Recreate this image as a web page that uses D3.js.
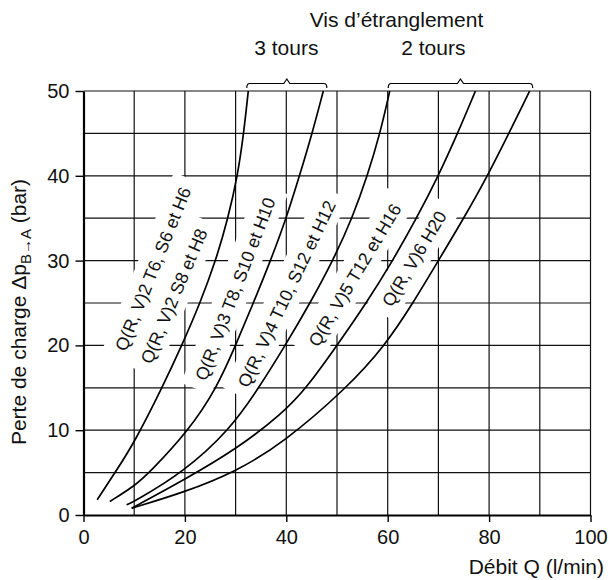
<!DOCTYPE html>
<html lang="fr">
<head>
<meta charset="UTF-8">
<title>Perte de charge</title>
<script src="https://cdnjs.cloudflare.com/ajax/libs/d3/7.8.5/d3.min.js"></script>
<style>
  body { margin: 0; background: #fff; }
  svg text { font-family: "Liberation Sans", Arial, sans-serif; fill: #111; }
  .lbl { font-size: 17.8px; }
  .ttl { font-size: 21px; }
</style>
</head>
<body>
<svg id="chart" width="611" height="580"></svg>
<script>
// axes
var xTicks = [0, 20, 40, 60, 80, 100];
var yTicks = [0, 10, 20, 30, 40, 50];
var xGrid = [10, 20, 30, 40, 50, 60, 70, 80, 90, 100];
var yGrid = [5, 10, 15, 20, 25, 30, 35, 40, 45, 50];

// courbes [Q (l/min), dp (bar)]
var curveA = [[2.7,1.8],[6,4.8],[10,8.5],[15.5,15],[19.4,20],[23,25],[26.1,30],[28.5,35],[30.4,40],[31.6,45],[32.5,50]];
var curveB = [[5.2,1.6],[10,3.4],[13,5],[20.8,10],[26.3,15],[30,20],[33.5,25],[36.9,30],[40,35],[42.6,40],[45.1,45],[47.3,50]];
var curveC = [[8.5,1.2],[10,1.6],[19.6,5],[28.8,10],[34.6,15],[39.8,20],[44.7,25],[49.2,30],[53,35],[56,40],[58.5,45],[60.4,50]];
var curveD = [[9.5,0.8],[20,4.2],[30,7.7],[39.3,12],[44,15],[50,20],[55.8,25],[61,30],[65.7,35],[70,40],[73.8,45],[77.3,50]];
var curveE = [[9.5,0.8],[20,2.7],[30,5.1],[39.3,8.45],[52,15],[59.5,20],[65,25],[70,30],[75,35],[79.7,40],[83.9,45],[88,50]];
var curves = [curveA, curveB, curveC, curveD, curveE];

// étiquettes des courbes
var labelTexts = ["Q(R, V)2 T6, S6 et H6", "Q(R, V)2 S8 et H8", "Q(R, V)3 T8, S10 et H10",
                  "Q(R, V)4 T10, S12 et H12", "Q(R, V)5 T12 et H16", "Q(R, V)6 H20"];
var labelQ = [8.4, 13.4, 24.2, 32.5, 46.3, 60.8];
var labelP = [19.2, 17.7, 15.7, 14.9, 19.7, 24.4];
var labelAngle = [68, 67, 69, 64.5, 59, 59];

// vis d'étranglement
var bracketText = ["3 tours", "2 tours"];
var bracketTextQ = [40, 69];
var bracketFrom = [32.2, 60.1];
var bracketTo = [48, 88.6];

var svg = d3.select("#chart");
var x = d3.scaleLinear().domain([0, 100]).range([83.5, 590.5]);
var y = d3.scaleLinear().domain([0, 50]).range([515, 91]);

// grille
var grid = svg.append("g").attr("stroke", "#111").attr("stroke-width", 1.2);
grid.selectAll(".vg").data(xGrid).join("line")
  .attr("x1", function(d){ return x(d); }).attr("x2", function(d){ return x(d); })
  .attr("y1", y(0)).attr("y2", y(50));
grid.selectAll(".hg").data(yGrid).join("line")
  .attr("x1", x(0)).attr("x2", x(100))
  .attr("y1", function(d){ return y(d); }).attr("y2", function(d){ return y(d); });

// fonds blancs des étiquettes (coupent la grille)
var bg = svg.append("g");
var curveG = svg.append("g");
var lblG = svg.append("g");

var labels = lblG.selectAll("g").data(labelTexts).join("g")
  .attr("transform", function(d, i){
    return "translate(" + x(labelQ[i]) + "," + y(labelP[i]) + ") rotate(" + (-labelAngle[i]) + ")";
  });
labels.append("text").attr("class", "lbl").text(function(d){ return d; });

labels.each(function(d, i){
  var b = d3.select(this).select("text").node().getBBox();
  bg.append("rect")
    .attr("transform", d3.select(this).attr("transform"))
    .attr("x", b.x - 10).attr("y", b.y - 7)
    .attr("width", b.width + 20).attr("height", b.height + 12)
    .attr("fill", "#fff");
});

var line = d3.line()
  .x(function(d){ return x(d[0]); })
  .y(function(d){ return y(d[1]); })
  .curve(d3.curveBasis);

curveG.selectAll("path").data(curves).join("path")
  .attr("d", line)
  .attr("fill", "none").attr("stroke", "#000").attr("stroke-width", 1.7);

// axes
var xAxis = svg.append("g").attr("transform", "translate(0," + y(0) + ")")
  .call(d3.axisBottom(x).tickValues(xTicks).tickSize(7).tickSizeOuter(0).tickPadding(8));
var yAxis = svg.append("g").attr("transform", "translate(" + x(0) + ",0)")
  .call(d3.axisLeft(y).tickValues(yTicks).tickSize(8).tickSizeOuter(0).tickPadding(6));
[xAxis, yAxis].forEach(function(a){
  a.select(".domain").attr("stroke", "#000").attr("stroke-width", 2.2);
  a.selectAll(".tick line").attr("stroke", "#000").attr("stroke-width", 1.4);
  a.selectAll(".tick text").attr("fill", "#111")
    .style("font-family", "'Liberation Sans', Arial, sans-serif").style("font-size", "20px");
});

// titres des axes
svg.append("text").attr("class", "ttl").attr("x", 604).attr("y", 574).attr("text-anchor", "end")
  .text("Débit Q (l/min)");

var yt = svg.append("text").attr("class", "ttl").attr("transform", "translate(26,312) rotate(-90)")
  .attr("text-anchor", "middle");
yt.append("tspan").text("Perte de charge Δp");
yt.append("tspan").attr("dy", 5).style("font-size", "15px").text("B→A");
yt.append("tspan").attr("dy", -5).text(" (bar)");

// vis d'étranglement
svg.append("text").attr("class", "ttl").attr("x", 396.5).attr("y", 27).attr("text-anchor", "middle")
  .text("Vis d’étranglement");

var topY = y(50);
bracketText.forEach(function(t, i){
  var x0 = x(bracketFrom[i]), x1 = x(bracketTo[i]), xm = (x0 + x1) / 2;
  svg.append("text").attr("class", "ttl").attr("x", x(bracketTextQ[i])).attr("y", 55)
    .attr("text-anchor", "middle").text(t);
  var p = d3.path();
  p.moveTo(x0, topY - 3);
  p.quadraticCurveTo(x0, topY - 7.5, x0 + 3, topY - 7.5);
  p.lineTo(xm - 3, topY - 7.5);
  p.lineTo(xm, topY - 12);
  p.lineTo(xm + 3, topY - 7.5);
  p.lineTo(x1 - 3, topY - 7.5);
  p.quadraticCurveTo(x1, topY - 7.5, x1, topY - 3);
  svg.append("path").attr("d", p.toString()).attr("fill", "none")
    .attr("stroke", "#000").attr("stroke-width", 1.2);
});
</script>
</body>
</html>
